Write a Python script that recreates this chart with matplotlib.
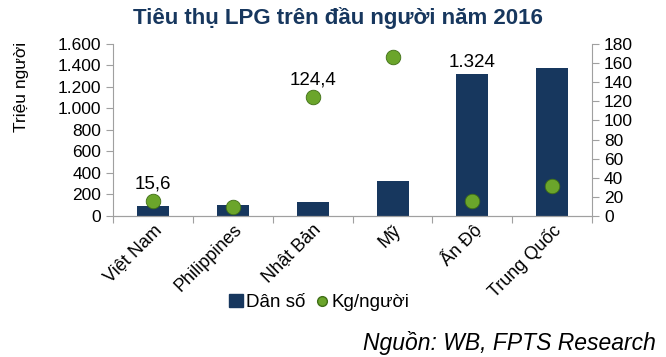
import numpy as np
import matplotlib.pyplot as plt
from matplotlib.lines import Line2D
from matplotlib.patches import Patch

plt.rcParams['font.family'] = ['Liberation Sans', 'DejaVu Sans']

countries = ["Việt Nam", "Philippines", "Nhật Bản", "Mỹ", "Ấn Độ", "Trung Quốc"]
dan_so = [93, 103, 127, 323, 1324, 1379]
kg_nguoi = [15.6, 9, 124.4, 166, 16, 31]

navy = "#17375E"
green = "#6BA52B"

fig = plt.figure(figsize=(6.66, 3.57), dpi=100)
ax = fig.add_axes([0.170, 0.395, 0.719, 0.482])
ax2 = ax.twinx()

x = np.arange(len(countries))
ax.bar(x, dan_so, width=0.4, color=navy, zorder=2)
ax2.scatter(x, kg_nguoi, s=110, color=green, edgecolor="#3f6e16", linewidth=0.6, zorder=3)

ax.set_xlim(-0.5, len(countries) - 0.5)
ax.set_ylim(0, 1600)
ax.set_yticks(np.arange(0, 1601, 200))
ax.set_yticklabels([f"{v:,}".replace(",", ".") for v in range(0, 1601, 200)])
ax2.set_ylim(0, 180)
ax2.set_yticks(np.arange(0, 181, 20))

ax.set_xticks(np.arange(-0.5, len(countries), 1), minor=False)
ax.set_xticklabels([])
ax.set_xticks(x, minor=True)
ax.set_xticklabels(countries, minor=True, rotation=45, ha="right",
                   rotation_mode="anchor", fontsize=13)
ax.tick_params(axis="x", which="minor", length=0, pad=4)
ax.tick_params(axis="x", which="major", length=5, color="#a0a0a0")

for a in (ax, ax2):
    a.spines["top"].set_visible(False)
    a.spines["left"].set_color("#a0a0a0")
    a.spines["right"].set_color("#a0a0a0")
    a.spines["bottom"].set_color("#a0a0a0")
    a.tick_params(axis="y", labelsize=12.5, color="#a0a0a0", length=5)
ax.spines["right"].set_visible(False)
ax2.spines["left"].set_visible(False)

ax.set_ylabel("Triệu người", fontsize=12.5)
ax.yaxis.set_label_coords(-0.175, 0.75)

ax2.text(0, 15.6 + 9, "15,6", ha="center", va="bottom", fontsize=13.5)
ax2.text(2, 124.4 + 9, "124,4", ha="center", va="bottom", fontsize=13.5)
ax.text(4, 1324 + 20, "1.324", ha="center", va="bottom", fontsize=13.5)

fig.text(0.508, 0.95, "Tiêu thụ LPG trên đầu người năm 2016", ha="center",
         va="center", fontsize=16, fontweight="bold", color=navy)

handles = [Patch(color=navy, label="Dân số"),
           Line2D([], [], marker="o", linestyle="none", markersize=7,
                  markerfacecolor=green, markeredgecolor="#3f6e16", label="Kg/người")]
fig.legend(handles=handles, loc="center", bbox_to_anchor=(0.48, 0.152),
           ncol=2, frameon=False, fontsize=13.5, handlelength=0.7,
           handletextpad=0.2, columnspacing=0.5)

fig.text(0.985, 0.04, "Nguồn: WB, FPTS Research", ha="right", va="center",
         fontsize=16.5, style="italic")

fig.savefig("out.png", dpi=100)
